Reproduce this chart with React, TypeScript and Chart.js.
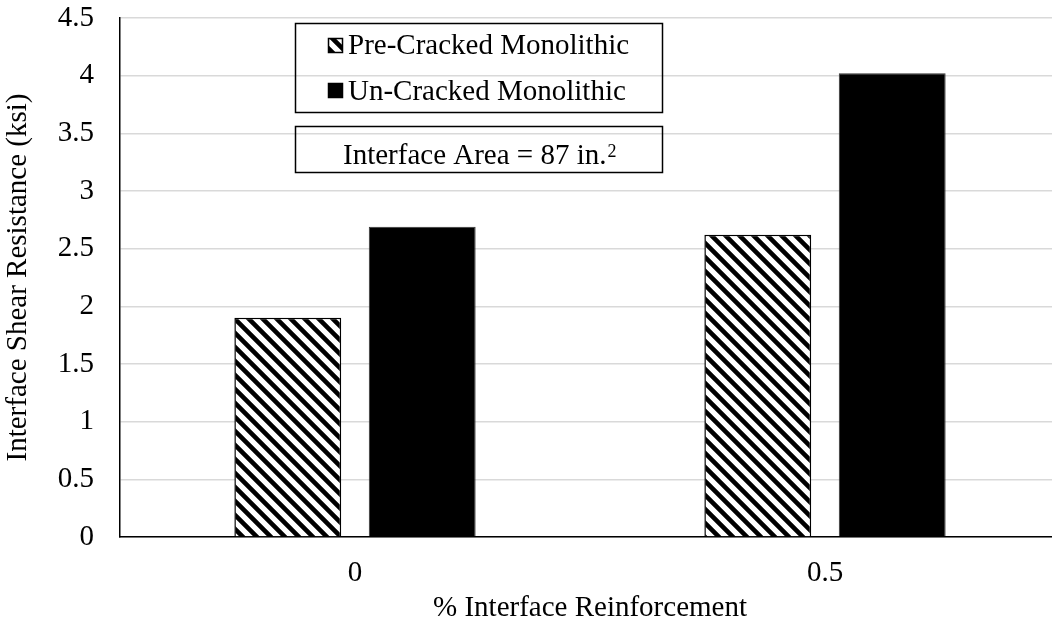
import { useEffect, useRef } from "react";
import { Chart, registerables } from "chart.js";

Chart.register(...registerables);

// ---- data ----
const categories = ["0", "0.5"];
const preCracked = [1.9, 2.62];
const unCracked = [2.69, 4.02];
const seriesLabels = ["Pre-Cracked Monolithic", "Un-Cracked Monolithic"];
const yMin = 0;
const yMax = 4.5;
const yStep = 0.5;
const yAxisTitle = "Interface Shear Resistance (ksi)";
const xAxisTitle = "% Interface Reinforcement";
const noteText = "Interface Area = 87 in.";
const noteSup = "2";

const FONT = "'Liberation Serif', 'Times New Roman', serif";
const FS = 29;

function makeHatch(): CanvasPattern | string {
  const s = 14;
  const c = document.createElement("canvas");
  c.width = s;
  c.height = s;
  const g = c.getContext("2d");
  if (!g) return "#000";
  g.fillStyle = "#fff";
  g.fillRect(0, 0, s, s);
  g.strokeStyle = "#000";
  g.lineWidth = 4.6;
  g.beginPath();
  for (let k = -1; k <= 1; k++) {
    g.moveTo(-3, k * s - 3);
    g.lineTo(s + 3, s + k * s + 3);
  }
  g.stroke();
  const p = g.createPattern(c, "repeat");
  return p || "#000";
}

const legendPlugin = {
  id: "boxLegend",
  afterDraw(chart: any) {
    const ctx = chart.ctx as CanvasRenderingContext2D;
    ctx.save();
    ctx.strokeStyle = "#000";
    ctx.lineWidth = 1.5;
    ctx.strokeRect(295.5, 23.5, 367, 89);
    ctx.strokeRect(295.5, 126.5, 367, 46);

    ctx.font = `${FS}px ${FONT}`;
    ctx.textBaseline = "alphabetic";
    ctx.textAlign = "left";
    ctx.fillStyle = "#000";
    const rows = [
      { markerY: 38, baseY: 54 },
      { markerY: 83, baseY: 100 },
    ];
    chart.data.datasets.forEach((ds: any, i: number) => {
      const r = rows[i];
      ctx.fillStyle = ds.backgroundColor;
      ctx.fillRect(328, r.markerY, 15, 15);
      ctx.strokeStyle = "#000";
      ctx.lineWidth = 1.5;
      ctx.strokeRect(328.5, r.markerY + 0.5, 14, 14);
      ctx.fillStyle = "#000";
      ctx.fillText(ds.label, 348, r.baseY);
    });

    ctx.fillStyle = "#000";
    ctx.font = `${FS}px ${FONT}`;
    ctx.fillText(noteText, 343, 164);
    const w = ctx.measureText(noteText).width;
    ctx.font = `18px ${FONT}`;
    ctx.fillText(noteSup, 343 + w + 1, 157);
    ctx.restore();
  },
};

export default function App() {
  const ref = useRef<HTMLCanvasElement | null>(null);

  useEffect(() => {
    const canvas = ref.current;
    if (!canvas) return;
    const hatch = makeHatch();
    const chart = new Chart(canvas, {
      type: "bar",
      data: {
        labels: categories,
        datasets: [
          {
            label: seriesLabels[0],
            data: preCracked,
            backgroundColor: hatch as any,
            borderColor: "#000",
            borderWidth: 1.5,
            categoryPercentage: 0.572,
            barPercentage: 0.795,
          },
          {
            label: seriesLabels[1],
            data: unCracked,
            backgroundColor: "#000",
            borderColor: "#333",
            borderWidth: 1,
            categoryPercentage: 0.572,
            barPercentage: 0.795,
          },
        ],
      },
      options: {
        responsive: false,
        animation: false,
        devicePixelRatio: 1,
        layout: { padding: { top: 18, left: 0, right: 0, bottom: 0 } },
        plugins: {
          legend: { display: false },
          tooltip: { enabled: false },
        },
        scales: {
          x: {
            grid: { display: false },
            border: { display: true, color: "#000", width: 1.5 },
            ticks: {
              color: "#000",
              font: { family: FONT, size: FS },
              padding: 11,
            },
            title: {
              display: true,
              text: xAxisTitle,
              color: "#000",
              font: { family: FONT, size: FS },
              padding: { top: 0, bottom: -2 },
            },
            afterFit(scale: any) {
              scale.height = 87;
            },
          },
          y: {
            min: yMin,
            max: yMax,
            grid: {
              color: "#d9d9d9",
              lineWidth: 1.5,
              drawTicks: true,
              tickLength: 26,
              tickColor: "rgba(0,0,0,0)",
            },
            border: { display: true, color: "#000", width: 1.5 },
            ticks: {
              stepSize: yStep,
              color: "#000",
              font: { family: FONT, size: FS },
              padding: 0,
              callback: (v: any) => String(v),
            },
            title: {
              display: true,
              text: yAxisTitle,
              color: "#000",
              font: { family: FONT, size: FS },
              padding: { top: 1, bottom: 0 },
            },
            afterFit(scale: any) {
              scale.width = 120;
            },
          },
        },
      },
      plugins: [legendPlugin],
    });
    return () => chart.destroy();
  }, []);

  return (
    <div
      style={{
        position: "fixed",
        left: 0,
        top: 0,
        width: 1052,
        height: 624,
        overflow: "hidden",
        background: "#fff",
      }}
    >
      <canvas ref={ref} width={1060} height={624} style={{ display: "block", width: 1060, height: 624 }} />
    </div>
  );
}
